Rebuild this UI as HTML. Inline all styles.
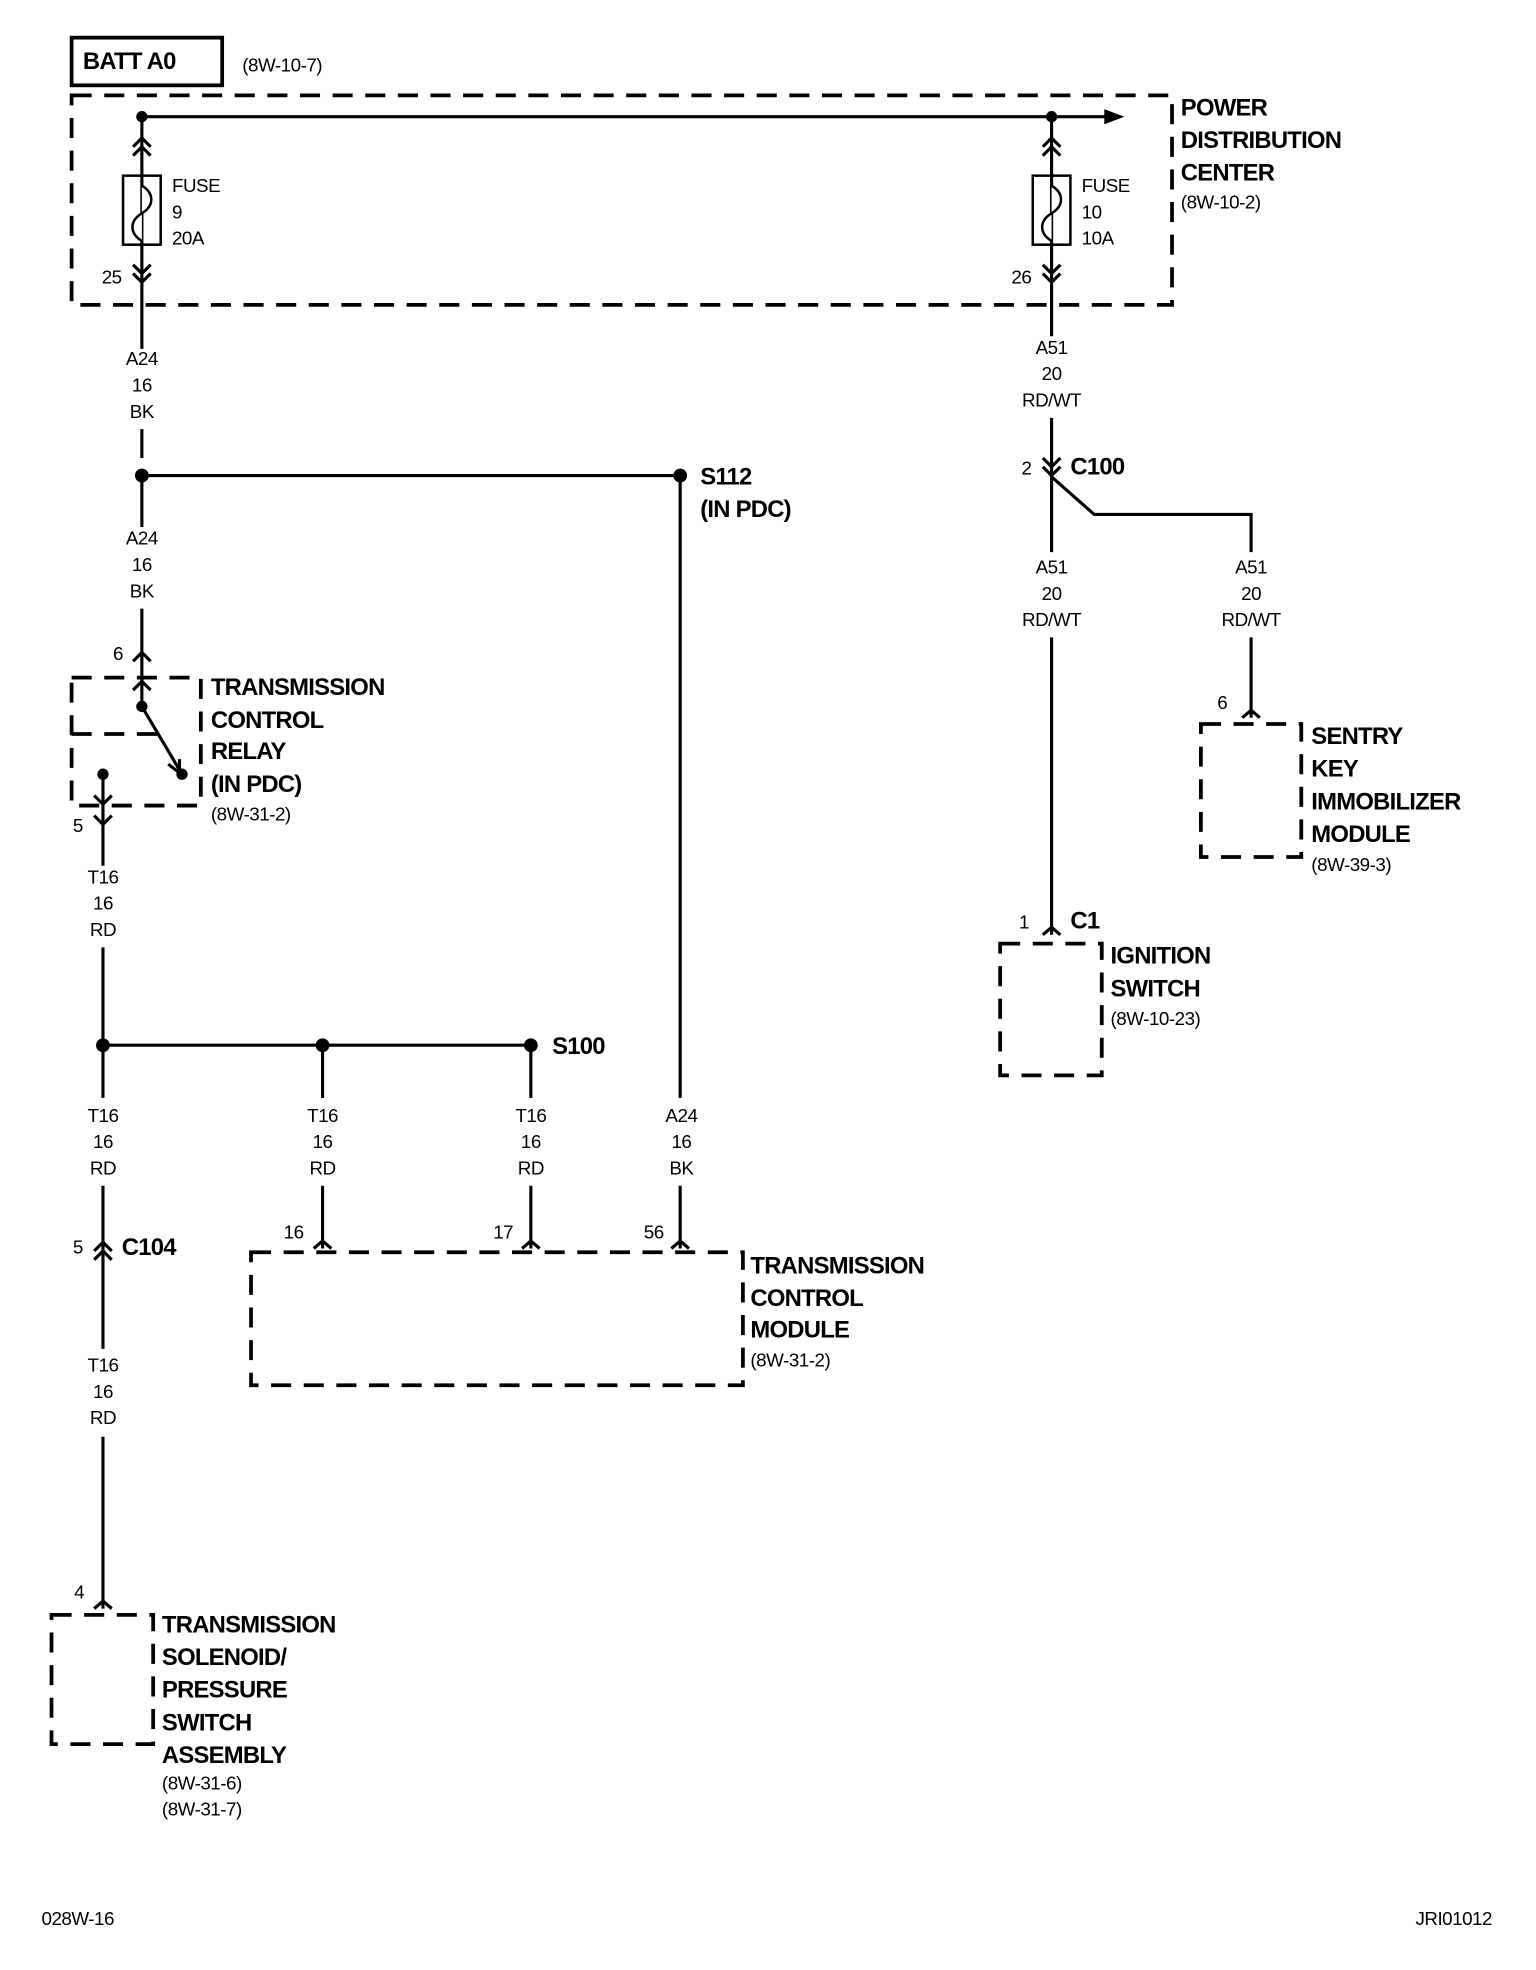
<!DOCTYPE html>
<html><head><meta charset="utf-8"><style>
html,body{margin:0;padding:0;background:#fff}
svg{display:block}
text{font-family:"Liberation Sans Narrow","Liberation Sans",sans-serif;fill:#000}
.b{font-weight:bold;font-size:19px;letter-spacing:-0.6px}
.s{font-size:15px;letter-spacing:-0.4px}
.c{text-anchor:middle}
</style></head><body>
<svg width="1536" height="1970" viewBox="0 0 1224 1570" xmlns="http://www.w3.org/2000/svg">
<g fill="none" stroke="#000" stroke-width="3">
<rect x="57" y="30" width="120" height="38"/>
<g stroke-dasharray="16,10">
<rect x="57" y="76" width="877" height="167"/>
<rect x="57" y="540" width="103" height="102"/>
<rect x="200" y="998" width="392" height="106"/>
<rect x="41" y="1287" width="81" height="103"/>
<rect x="957" y="577" width="80" height="106"/>
<rect x="797" y="752" width="81" height="105"/>
<line x1="57" y1="585" x2="128" y2="585"/>
</g>
</g>
<g fill="none" stroke="#000" stroke-width="2.5">
<line x1="113" y1="93" x2="882" y2="93"/>
<line x1="113" y1="93" x2="113" y2="278"/>
<rect x="98" y="140" width="30" height="55" stroke-width="2"/>
<line x1="113" y1="342" x2="113" y2="365"/>
<line x1="113" y1="379" x2="542" y2="379"/>
<line x1="113" y1="379" x2="113" y2="420"/>
<line x1="113" y1="485" x2="113" y2="563"/>
<line x1="113" y1="563" x2="145" y2="617"/>
<line x1="82" y1="617" x2="82" y2="690"/>
<line x1="82" y1="755" x2="82" y2="875"/>
<line x1="82" y1="833" x2="423" y2="833"/>
<line x1="257" y1="833" x2="257" y2="875"/>
<line x1="423" y1="833" x2="423" y2="875"/>
<line x1="542" y1="379" x2="542" y2="875"/>
<line x1="257" y1="945" x2="257" y2="995"/>
<line x1="423" y1="945" x2="423" y2="995"/>
<line x1="542" y1="945" x2="542" y2="995"/>
<line x1="82" y1="945" x2="82" y2="1075"/>
<line x1="82" y1="1145" x2="82" y2="1282"/>
<line x1="838" y1="93" x2="838" y2="268"/>
<rect x="823" y="140" width="30" height="55" stroke-width="2"/>
<line x1="838" y1="333" x2="838" y2="440"/>
<polyline points="838,380 872,410 997,410 997,440"/>
<line x1="838" y1="508" x2="838" y2="745"/>
<line x1="997" y1="508" x2="997" y2="572"/>
<path d="M113,148 c10,6 10,16 0,22 c-10,6 -10,16 0,22" fill="#fff" stroke-width="2"/>
<path d="M838,148 c10,6 10,16 0,22 c-10,6 -10,16 0,22" fill="#fff" stroke-width="2"/>
<path d="M106,117 l7,-7 l7,7 M106,124 l7,-7 l7,7"/>
<path d="M831,117 l7,-7 l7,7 M831,124 l7,-7 l7,7"/>
<path d="M75,997 l7,-7 l7,7 M75,1004 l7,-7 l7,7"/>
<path d="M106,211 l7,7 l7,-7 M106,218 l7,7 l7,-7"/>
<path d="M831,211 l7,7 l7,-7 M831,218 l7,7 l7,-7"/>
<path d="M831,365 l7,7 l7,-7 M831,372 l7,7 l7,-7"/>
<path d="M106,527 l7,-7 l7,7"/>
<path d="M250,995 l7,-6 l7,6"/>
<path d="M416,995 l7,-6 l7,6"/>
<path d="M535,995 l7,-6 l7,6"/>
<path d="M75,1282 l7,-6 l7,6"/>
<path d="M990,572 l7,-6 l7,6"/>
<path d="M831,745 l7,-6 l7,6"/>
<path d="M106,550 l7,-7 l7,7"/>
<path d="M75,650 l7,7 l7,-7"/>
<path d="M75,634 l7,7 l7,-7"/>
<path d="M134,609 l9,7 l0,-11"/>
</g>
<polygon points="880,87 896,93 880,99" fill="#000"/>
<g fill="#000">
<circle cx="113" cy="93" r="4.5"/><circle cx="838" cy="93" r="4.5"/>
<circle cx="113" cy="379" r="5.5"/><circle cx="542" cy="379" r="5.5"/>
<circle cx="113" cy="563" r="4.5"/><circle cx="145" cy="617" r="4.5"/><circle cx="82" cy="617" r="4.5"/>
<circle cx="82" cy="833" r="5.5"/><circle cx="257" cy="833" r="5.5"/><circle cx="423" cy="833" r="5.5"/>
</g>
<text x="66" y="55" class="b">BATT A0</text>
<text x="193" y="57" class="s">(8W-10-7)</text>
<text x="941" y="92" class="b">POWER</text>
<text x="941" y="118" class="b">DISTRIBUTION</text>
<text x="941" y="144" class="b">CENTER</text>
<text x="941" y="166" class="s">(8W-10-2)</text>
<text x="137" y="153" class="s">FUSE</text><text x="137" y="174" class="s">9</text><text x="137" y="195" class="s">20A</text>
<text x="862" y="153" class="s">FUSE</text><text x="862" y="174" class="s">10</text><text x="862" y="195" class="s">10A</text>
<text x="81" y="226" class="s">25</text><text x="806" y="226" class="s">26</text>
<text x="113" y="291" class="s c">A24</text><text x="113" y="312" class="s c">16</text><text x="113" y="333" class="s c">BK</text>
<text x="113" y="434" class="s c">A24</text><text x="113" y="455" class="s c">16</text><text x="113" y="476" class="s c">BK</text>
<text x="82" y="704" class="s c">T16</text><text x="82" y="725" class="s c">16</text><text x="82" y="746" class="s c">RD</text>
<text x="82" y="894" class="s c">T16</text><text x="82" y="915" class="s c">16</text><text x="82" y="936" class="s c">RD</text>
<text x="257" y="894" class="s c">T16</text><text x="257" y="915" class="s c">16</text><text x="257" y="936" class="s c">RD</text>
<text x="423" y="894" class="s c">T16</text><text x="423" y="915" class="s c">16</text><text x="423" y="936" class="s c">RD</text>
<text x="543" y="894" class="s c">A24</text><text x="543" y="915" class="s c">16</text><text x="543" y="936" class="s c">BK</text>
<text x="82" y="1093" class="s c">T16</text><text x="82" y="1114" class="s c">16</text><text x="82" y="1135" class="s c">RD</text>
<text x="838" y="282" class="s c">A51</text><text x="838" y="303" class="s c">20</text><text x="838" y="324" class="s c">RD/WT</text>
<text x="838" y="457" class="s c">A51</text><text x="838" y="478" class="s c">20</text><text x="838" y="499" class="s c">RD/WT</text>
<text x="997" y="457" class="s c">A51</text><text x="997" y="478" class="s c">20</text><text x="997" y="499" class="s c">RD/WT</text>
<text x="558" y="386" class="b">S112</text>
<text x="558" y="412" class="b">(IN PDC)</text>
<text x="90" y="526" class="s">6</text>
<text x="168" y="554" class="b">TRANSMISSION</text>
<text x="168" y="580" class="b">CONTROL</text>
<text x="168" y="605" class="b">RELAY</text>
<text x="168" y="631" class="b">(IN PDC)</text>
<text x="168" y="654" class="s">(8W-31-2)</text>
<text x="58" y="663" class="s">5</text>
<text x="440" y="840" class="b">S100</text>
<text x="226" y="987" class="s">16</text><text x="393" y="987" class="s">17</text><text x="513" y="987" class="s">56</text>
<text x="58" y="999" class="s">5</text><text x="97" y="1000" class="b">C104</text>
<text x="598" y="1015" class="b">TRANSMISSION</text>
<text x="598" y="1041" class="b">CONTROL</text>
<text x="598" y="1066" class="b">MODULE</text>
<text x="598" y="1089" class="s">(8W-31-2)</text>
<text x="59" y="1274" class="s">4</text>
<text x="129" y="1301" class="b">TRANSMISSION</text>
<text x="129" y="1327" class="b">SOLENOID/</text>
<text x="129" y="1353" class="b">PRESSURE</text>
<text x="129" y="1379" class="b">SWITCH</text>
<text x="129" y="1405" class="b">ASSEMBLY</text>
<text x="129" y="1426" class="s">(8W-31-6)</text>
<text x="129" y="1447" class="s">(8W-31-7)</text>
<text x="814" y="378" class="s">2</text><text x="853" y="378" class="b">C100</text>
<text x="970" y="565" class="s">6</text>
<text x="1045" y="593" class="b">SENTRY</text>
<text x="1045" y="619" class="b">KEY</text>
<text x="1045" y="645" class="b">IMMOBILIZER</text>
<text x="1045" y="671" class="b">MODULE</text>
<text x="1045" y="694" class="s">(8W-39-3)</text>
<text x="812" y="740" class="s">1</text><text x="853" y="740" class="b">C1</text>
<text x="885" y="768" class="b">IGNITION</text>
<text x="885" y="794" class="b">SWITCH</text>
<text x="885" y="817" class="s">(8W-10-23)</text>
<text x="33" y="1534" class="s">028W-16</text>
<text x="1128" y="1534" class="s">JRI01012</text>
</svg>
</body></html>
